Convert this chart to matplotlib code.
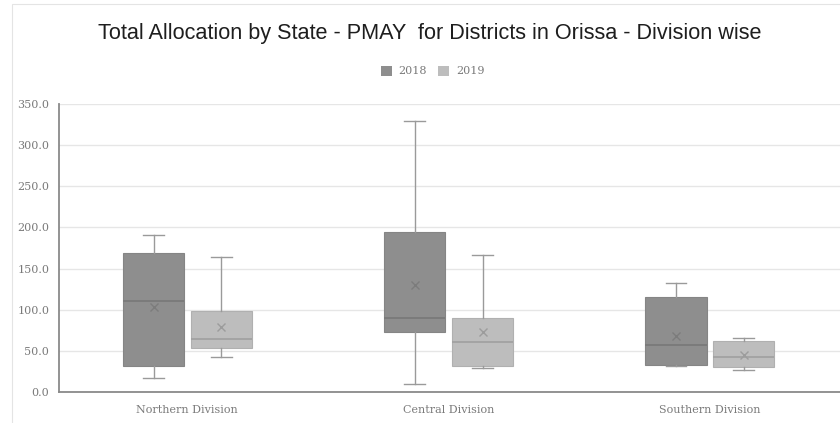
import matplotlib.pyplot as plt
import numpy as np
from matplotlib.patches import Rectangle

# данные
divisions = ['Northern Division', 'Central Division', 'Southern Division']
years = ['2018', '2019']

whislo_2018 = [17.5, 10.0, 31.0]
q1_2018 = [32.0, 73.0, 33.0]
med_2018 = [110.0, 90.0, 57.0]
q3_2018 = [169.5, 195.0, 116.0]
whishi_2018 = [191.0, 329.0, 133.0]
mean_2018 = [103.0, 130.5, 68.0]

whislo_2019 = [42.0, 29.5, 27.0]
q1_2019 = [53.5, 31.0, 30.0]
med_2019 = [65.0, 61.0, 42.5]
q3_2019 = [99.0, 90.0, 62.0]
whishi_2019 = [164.0, 166.5, 66.0]
mean_2019 = [79.0, 73.0, 44.5]

colors = ['#8e8e8e', '#bdbdbd']
edge_colors = ['#858585', '#b0b0b0']
txt_color = '#7a7a7a'

fig = plt.figure(figsize=(8.4, 4.23), dpi=100, facecolor='white')
# тонкая рамка области диаграммы
fig.patches.append(Rectangle((12 / 840, -0.01), 1.0, 1 - 4 / 423 + 0.01, transform=fig.transFigure,
                             fill=False, edgecolor='#e4e4e4', linewidth=0.8))
ax = fig.add_axes([59 / 840, 1 - 392 / 423, 1 - 59 / 840, (392 - 104) / 423])

def make_stats(lo, q1, med, q3, hi, mean):
    return [dict(whislo=a, q1=b, med=c, q3=d, whishi=e, mean=f, fliers=[])
            for a, b, c, d, e, f in zip(lo, q1, med, q3, hi, mean)]

series = [
    make_stats(whislo_2018, q1_2018, med_2018, q3_2018, whishi_2018, mean_2018),
    make_stats(whislo_2019, q1_2019, med_2019, q3_2019, whishi_2019, mean_2019),
]
offsets = [-0.128, 0.132]
x = np.arange(len(divisions))

for k in range(2):
    ax.bxp(series[k], positions=x + offsets[k], widths=0.234, capwidths=0.08,
           patch_artist=True, showmeans=True, showfliers=False,
           boxprops=dict(facecolor=colors[k], edgecolor=edge_colors[k], linewidth=0.8),
           medianprops=dict(color='#787878' if k == 0 else '#a0a0a0', linewidth=1.2),
           whiskerprops=dict(color='#9a9a9a', linewidth=1.0),
           capprops=dict(color='#9a9a9a', linewidth=1.0),
           meanprops=dict(marker='x', markeredgecolor='#7c7c7c' if k == 0 else '#9c9c9c',
                          markersize=6, markeredgewidth=1.0),
           zorder=3)

ax.set_xlim(-0.49, 2.5)
ax.set_ylim(0, 350)
ax.set_yticks(np.arange(0, 351, 50))
ax.set_yticklabels([f'{v:.1f}' for v in np.arange(0, 351, 50)])
ax.set_xticks(x)
ax.set_xticklabels(divisions)
ax.tick_params(axis='both', length=0, labelsize=8, labelcolor=txt_color,
               labelfontfamily='DejaVu Serif')
ax.tick_params(axis='y', pad=7)
ax.tick_params(axis='x', pad=9)
ax.yaxis.grid(True, color='#e6e6e6', linewidth=1.0, zorder=0)
ax.set_axisbelow(True)
for s in ['top', 'right']:
    ax.spines[s].set_visible(False)
for s in ['left', 'bottom']:
    ax.spines[s].set_color('#8a8a8a')
    ax.spines[s].set_linewidth(1.3)

fig.text(0.512, 1 - 34 / 423, 'Total Allocation by State - PMAY  for Districts in Orissa - Division wise',
         ha='center', va='center', fontsize=15.6, family='Liberation Sans', color='#1e1e1e')

# легенда
handles = [Rectangle((0, 0), 1, 1, facecolor=c) for c in colors]
fig.legend(handles, years, loc='center', bbox_to_anchor=(0.515, 1 - 71 / 423), ncol=2,
           frameon=False, handlelength=1.0, handleheight=1.0, handletextpad=0.6,
           columnspacing=1.0, prop=dict(family='DejaVu Serif', size=8),
           labelcolor=txt_color)

fig.savefig('out.png', dpi=100, facecolor='white')
